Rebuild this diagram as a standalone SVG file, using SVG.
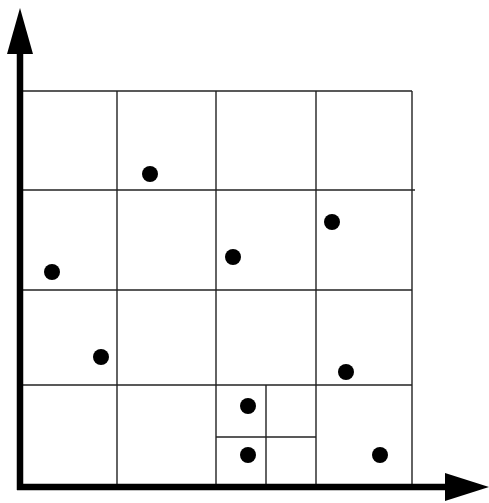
<svg xmlns="http://www.w3.org/2000/svg" width="489" height="503" viewBox="0 0 489 503">
<style>
.g{stroke:#222;stroke-width:1.4;fill:none}
.ax{stroke:#000;stroke-width:6.5;fill:none}
.pt{fill:#000}
</style>
<rect width="489" height="503" fill="#fff"/>
<g id="grid">
<line class="g" x1="20" y1="91" x2="412" y2="91"/>
<line class="g" x1="20" y1="190" x2="415" y2="190"/>
<line class="g" x1="20" y1="290" x2="412" y2="290"/>
<line class="g" x1="20" y1="385" x2="412" y2="385"/>
<line class="g" x1="117" y1="91" x2="117" y2="487"/>
<line class="g" x1="216" y1="91" x2="216" y2="487"/>
<line class="g" x1="316" y1="91" x2="316" y2="487"/>
<line class="g" x1="412" y1="91" x2="412" y2="487"/>
<line class="g" x1="266" y1="385" x2="266" y2="487"/>
<line class="g" x1="216" y1="437" x2="316" y2="437"/>
</g>
<g id="axes">
<line class="ax" x1="20" y1="490" x2="20" y2="50"/>
<polygon points="20,8 7,54 33,54" fill="#000"/>
<line class="ax" x1="17" y1="487" x2="450" y2="487"/>
<polygon points="489,487 445,473 445,501" fill="#000"/>
</g>
<g id="points">
<circle class="pt" cx="150" cy="174" r="8"/>
<circle class="pt" cx="52" cy="272" r="8"/>
<circle class="pt" cx="233" cy="257" r="8"/>
<circle class="pt" cx="332" cy="222" r="8"/>
<circle class="pt" cx="101" cy="357" r="8"/>
<circle class="pt" cx="346" cy="372" r="8"/>
<circle class="pt" cx="248" cy="406" r="8"/>
<circle class="pt" cx="248" cy="455" r="8"/>
<circle class="pt" cx="380" cy="455" r="8"/>
</g>
</svg>
